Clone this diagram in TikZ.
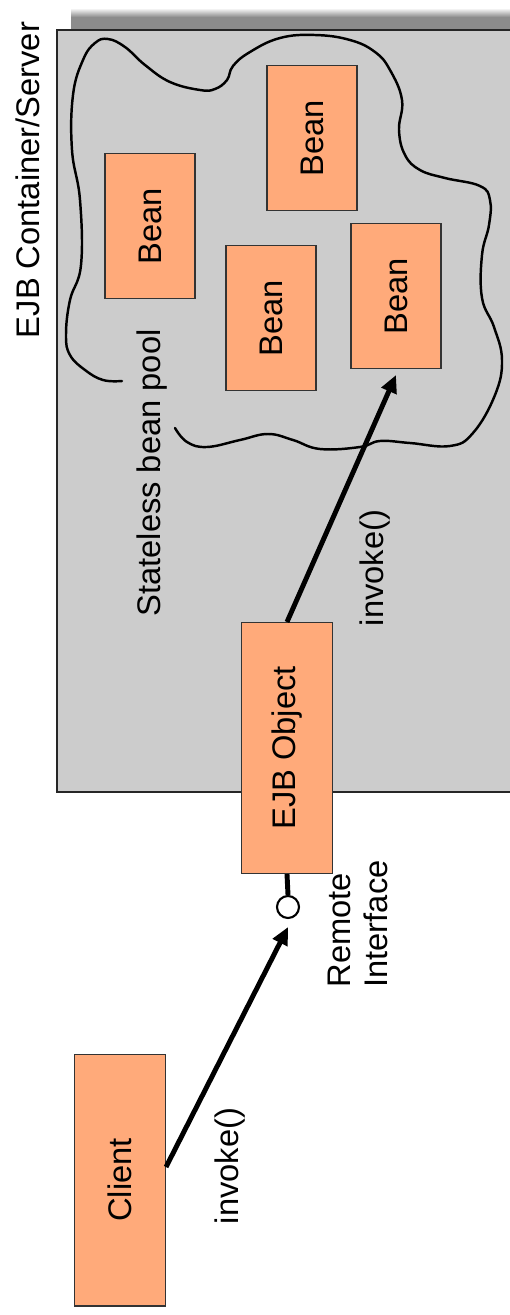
\documentclass[tikz,border=0pt]{standalone}
\usepackage{fontspec}
\setmainfont{Liberation Sans}
\usetikzlibrary{arrows.meta,positioning}
\definecolor{beanfill}{RGB}{255,170,122}
\definecolor{servergray}{RGB}{204,204,204}
\definecolor{shadowgray}{RGB}{140,140,140}
\colorlet{boxline}{black!80}
\newcommand{\bigfont}{\fontsize{18.6}{21}\selectfont}
\tikzset{
  >={Triangle[length=10pt,width=9pt]},
  box/.style={draw=boxline, line width=0.6pt, fill=beanfill, inner sep=0, font=\bigfont},
  bean/.style={box, minimum width=1.8cm, minimum height=2.9cm},
  tall box/.style={box, minimum width=1.82cm, minimum height=5.04cm},
  label text/.style={rotate=90, inner sep=0, font=\bigfont},
  invoke arrow/.style={->, line width=2.8pt},
  pool line/.style={line width=1.4pt, line cap=round}
}

\begin{document}
\begin{tikzpicture}[x=0.02cm, y=-0.02cm]
  \useasboundingbox (0,0) rectangle (510,1315);

  % container and its shadow
  \shade[top color=white, bottom color=shadowgray] (71,8) rectangle (514,17);
  \fill[shadowgray] (71,17) rectangle (514,30);
  \draw[fill=servergray, draw=black!85, line width=0.9pt] (57,30) rectangle (516,792);
  \node[label text] (server) at (28,180) {EJB Container/Server};

  % the pool
  \draw[pool line] plot[smooth, tension=0.7] coordinates {
    (175,428) (187,442) (207,447) (240,440) (268,434) (293,440) (320,449)
    (360,447) (380,441) (410,443) (450,446) (473,433) (495,395) (502,360)
    (494,327) (482,298) (482,255) (489,225) (490,200) (480,186) (445,178)
    (420,170) (405,155) (399,130) (402,100) (390,70) (375,52) (350,40)
    (315,35) (280,38) (250,52) (233,66) (227,80) (215,89) (200,90) (170,82)
    (145,65) (125,47) (108,39) (95,43) (83,60) (73,95) (72,150) (80,200)
    (81,265) (70,300) (66,335) (70,355) (85,370) (103,380) (122,381)};

  \node[bean] (beanA) at (150,226) {\rotatebox{90}{Bean}};
  \node[bean] (beanB) at (312,138) {\rotatebox{90}{Bean}};
  \node[bean] (beanC) at (271,318) {\rotatebox{90}{Bean}};
  \node[bean] (beanD) at (396,296) {\rotatebox{90}{Bean}};
  \node[label text] (pool) at (152,473) {Stateless bean pool};

  % EJB object and remote interface
  \node[tall box, minimum height=5.02cm] (ejb) at (287,748) {\rotatebox{90}{EJB Object}};
  \node[circle, draw, line width=1.2pt, fill=white, minimum size=0.44cm, inner sep=0] (remote) at (288,907) {};
  \draw[line width=2.8pt] (ejb.south) -- (remote.north);
  \node[label text, align=left] (remotelbl) at (358,924) {Remote\\Interface};

  % client
  \node[tall box] (client) at (120,1180) {\rotatebox{90}{Client}};

  \draw[invoke arrow] ([yshift=0.26cm]client.east) -- ([yshift=-0.16cm]remote.south);
  \node[label text] (invokeA) at (230,1166) {invoke()};

  \draw[invoke arrow] (ejb.north) -- ([yshift=-0.12cm]beanD.south);
  \node[label text] (invokeB) at (375,568) {invoke()};

\end{tikzpicture}
\end{document}
